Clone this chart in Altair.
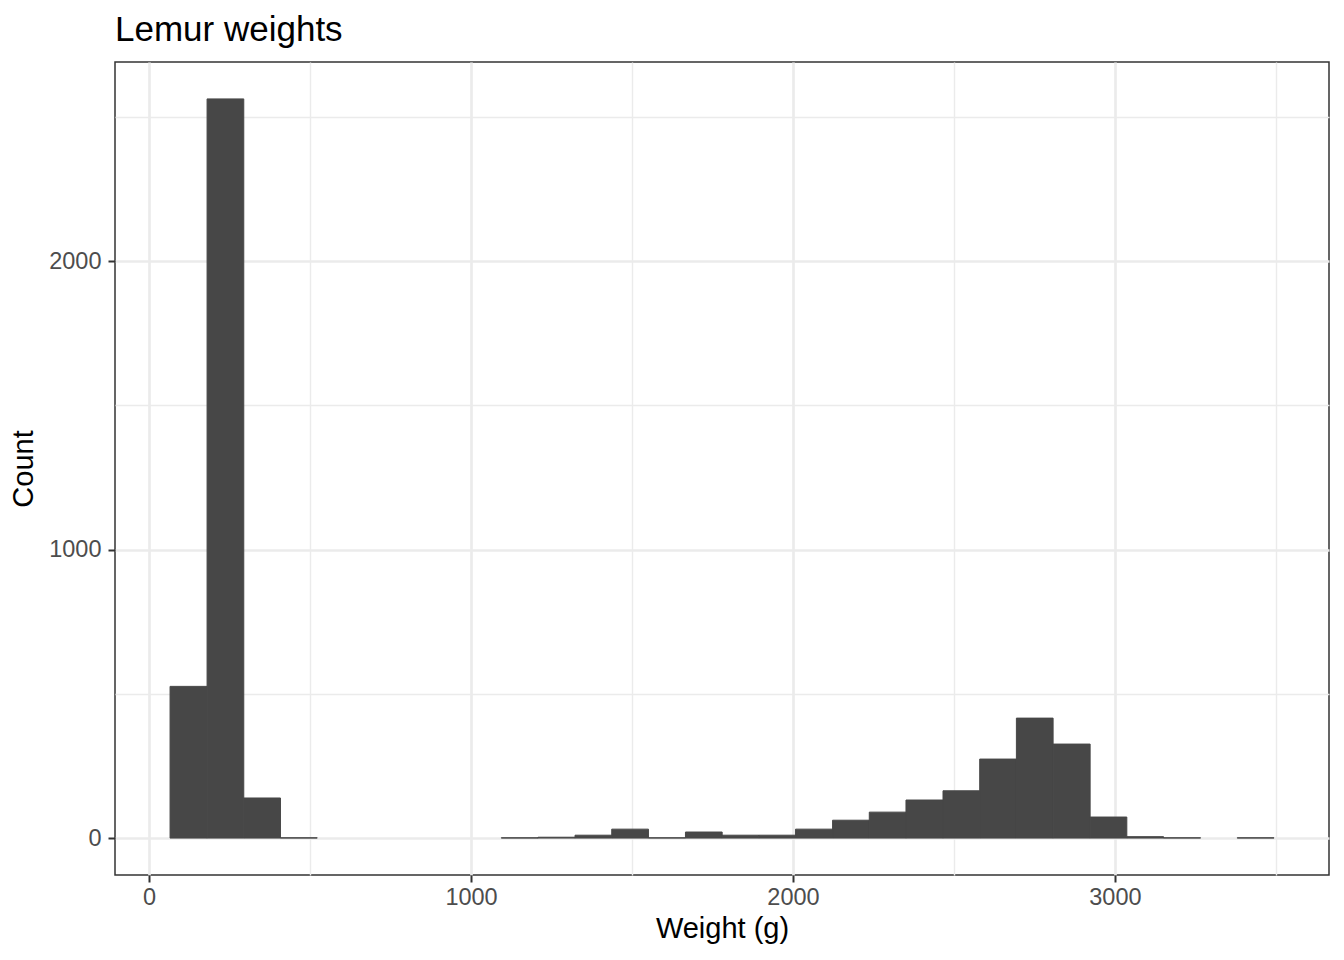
import altair as alt
import pandas as pd

# Histogram bin edges (g) and counts
bin_edges = [65, 180, 294, 408, 522, 637, 751, 865, 980, 1094, 1208, 1323, 1437,
             1551, 1666, 1780, 1894, 2008, 2123, 2237, 2351, 2466, 2580, 2694,
             2808, 2923, 3037, 3151, 3266, 3380, 3494]
counts = [526, 2563, 139, 1, 0, 0, 0, 0, 0, 1, 3, 10, 31, 1, 21, 10, 10, 31,
          62, 90, 132, 164, 274, 416, 326, 73, 5, 1, 0, 1]

x_ticks = [0, 500, 1000, 1500, 2000, 2500, 3000, 3500]
y_ticks = [0, 500, 1000, 1500, 2000, 2500]

df = pd.DataFrame({
    "start": bin_edges[:-1],
    "end": bin_edges[1:],
    "count": counts,
})

major = "datum.value % 1000 === 0"
FONT = "Liberation Sans"

x_axis = alt.Axis(
    values=x_ticks, format="d",
    labelExpr="datum.value % 1000 === 0 ? datum.label : ''",
    grid=True, gridColor="#EBEBEB",
    gridWidth={"condition": {"test": major, "value": 2.7}, "value": 1.4},
    domain=False,
    ticks=True, tickColor="#333333", tickWidth=2, tickSize=7,
    tickOpacity={"condition": {"test": major, "value": 1}, "value": 0},
    labelFont=FONT, labelFontSize=23.5, labelColor="#4D4D4D", labelPadding=3,
    title="Weight (g)", titleFont=FONT, titleFontSize=29, titleColor="#000000",
    titleFontWeight="normal", titlePadding=6,
)
y_axis = alt.Axis(
    values=y_ticks, format="d",
    labelExpr="datum.value % 1000 === 0 ? datum.label : ''",
    grid=True, gridColor="#EBEBEB",
    gridWidth={"condition": {"test": major, "value": 2.7}, "value": 1.4},
    domain=False,
    ticks=True, tickColor="#333333", tickWidth=2, tickSize=7,
    tickOpacity={"condition": {"test": major, "value": 1}, "value": 0},
    labelFont=FONT, labelFontSize=23.5, labelColor="#4D4D4D", labelPadding=7,
    title="Count", titleFont=FONT, titleFontSize=29, titleColor="#000000",
    titleFontWeight="normal", titlePadding=10,
)

chart = alt.Chart(df).transform_filter(
    "datum.count > 0"
).mark_rect(color="#474747", stroke="#474747", strokeWidth=1).encode(
    x=alt.X("start:Q", scale=alt.Scale(domain=[-106, 3665], nice=False, zero=False), axis=x_axis),
    x2="end:Q",
    y=alt.Y("count:Q", scale=alt.Scale(domain=[-128, 2691], nice=False, zero=False), axis=y_axis),
    y2=alt.datum(0),
).properties(
    width=1214,
    height=813,
    title=alt.TitleParams("Lemur weights", anchor="start", frame="group", font=FONT,
                          fontSize=35, fontWeight="normal", color="#000000", offset=14),
    autosize=alt.AutoSizeParams(type="none"),
    padding={"left": 107, "top": 54, "right": 7, "bottom": 77},
).configure_view(
    stroke="#333333", strokeWidth=1.5, fill="white"
)

chart.save("out.html", embed_options={"renderer": "svg", "actions": False})
